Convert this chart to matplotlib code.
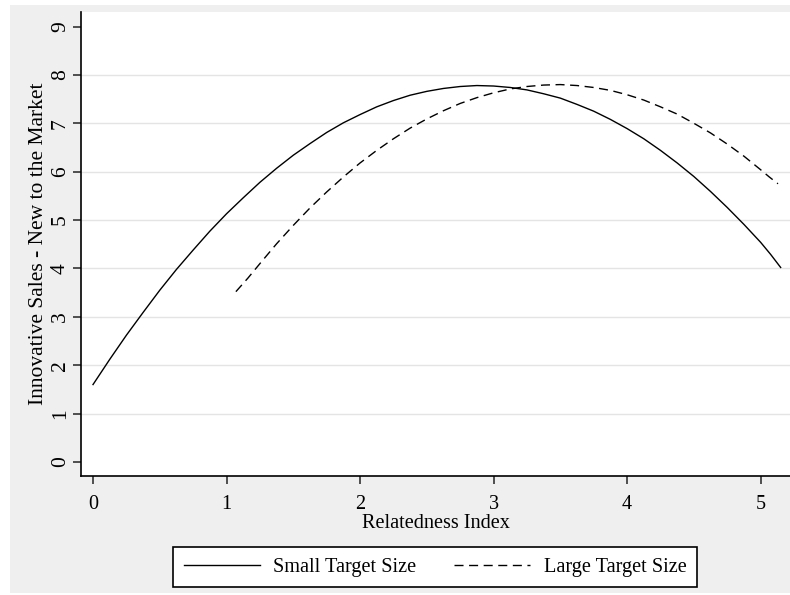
import matplotlib
matplotlib.use("Agg")
import matplotlib.pyplot as plt
from matplotlib.patches import Rectangle

plt.rcParams['font.family'] = ['Liberation Serif', 'DejaVu Serif']

# values
small_x = [0, 0.125, 0.25, 0.375, 0.5, 0.625, 0.75, 0.875, 1.0, 1.125, 1.25,
           1.375, 1.5, 1.625, 1.75, 1.875, 2.0, 2.125, 2.25, 2.375, 2.5, 2.625,
           2.75, 2.875, 3.0, 3.125, 3.25, 3.375, 3.5, 3.625, 3.75, 3.875, 4.0,
           4.125, 4.25, 4.375, 4.5, 4.625, 4.75, 4.875, 5.0, 5.075, 5.15]
small_y = [1.60, 2.12, 2.62, 3.09, 3.55, 3.98, 4.38, 4.77, 5.13, 5.46, 5.78,
           6.07, 6.34, 6.58, 6.81, 7.01, 7.18, 7.34, 7.47, 7.58, 7.66, 7.72,
           7.76, 7.78, 7.77, 7.74, 7.69, 7.61, 7.52, 7.39, 7.25, 7.08, 6.89,
           6.68, 6.44, 6.18, 5.90, 5.59, 5.26, 4.91, 4.54, 4.29, 4.02]

large_x = [1.07, 1.16, 1.25, 1.375, 1.5, 1.625, 1.75, 1.875, 2.0, 2.125, 2.25,
           2.375, 2.5, 2.625, 2.75, 2.875, 3.0, 3.125, 3.25, 3.375, 3.5, 3.625,
           3.75, 3.875, 4.0, 4.125, 4.25, 4.375, 4.5, 4.625, 4.75, 4.875, 5.0,
           5.065, 5.13]
large_y = [3.52, 3.80, 4.10, 4.51, 4.89, 5.25, 5.58, 5.89, 6.18, 6.44, 6.68,
           6.90, 7.09, 7.26, 7.41, 7.53, 7.63, 7.71, 7.76, 7.79, 7.80, 7.78,
           7.74, 7.68, 7.59, 7.48, 7.34, 7.19, 7.00, 6.80, 6.57, 6.32, 6.04,
           5.89, 5.75]

x_ticks = [0, 1, 2, 3, 4, 5]
y_ticks = list(range(10))
grid_levels = list(range(1, 9))

fig = plt.figure(figsize=(7.9, 5.95), dpi=100, facecolor='white')
# grey graph region behind everything
bg = Rectangle((10 / 790, 2 / 595), 780 / 790, 588 / 595,
               transform=fig.transFigure, facecolor='#efefef',
               edgecolor='none', zorder=-10)
fig.patches.append(bg)

ax = fig.add_axes([81 / 790, 1 - 476 / 595, 1 - 81 / 790, 464 / 595])
ax.set_facecolor('white')
ax.set_zorder(1)

for g in grid_levels:
    ax.axhline(g, color='#e4e4e4', lw=1.0, zorder=1)

ax.plot(small_x, small_y, color='black', lw=1.0, label='Small Target Size', zorder=3)
ax.plot(large_x, large_y, color='black', lw=1.0, linestyle=(0, (6.5, 4)),
        label='Large Target Size', zorder=3)

ax.set_xlim(-0.09, 5.22)
ax.set_ylim(-0.29, 9.3)
ax.set_xticks(x_ticks)
ax.set_yticks(y_ticks)

for s in ['top', 'right']:
    ax.spines[s].set_visible(False)
ax.spines['left'].set_linewidth(1.2)
ax.spines['bottom'].set_linewidth(1.2)

ax.tick_params(axis='both', direction='out', length=6, width=1.2, color='#333333')
ax.tick_params(axis='x', labelsize=14.6, pad=8)
ax.tick_params(axis='y', labelsize=15.5, pad=2)
for lab in ax.get_yticklabels():
    lab.set_rotation(90)
    lab.set_va('center')

ax.set_xlabel('Relatedness Index', fontsize=14.6, labelpad=0)
ax.set_ylabel('Innovative Sales - New to the Market', fontsize=15.5, labelpad=2)

handles, labels = ax.get_legend_handles_labels()
leg = fig.legend(handles, labels, loc='center', ncol=2,
                 bbox_to_anchor=(435 / 790, 1 - 567 / 595), fontsize=14.6,
                 frameon=True, fancybox=False, edgecolor='black', framealpha=1,
                 handlelength=3.75, columnspacing=1.9, handletextpad=0.65,
                 borderpad=0.5)
leg.get_frame().set_linewidth(1.2)

fig.savefig('out.png', dpi=100, facecolor='white')
